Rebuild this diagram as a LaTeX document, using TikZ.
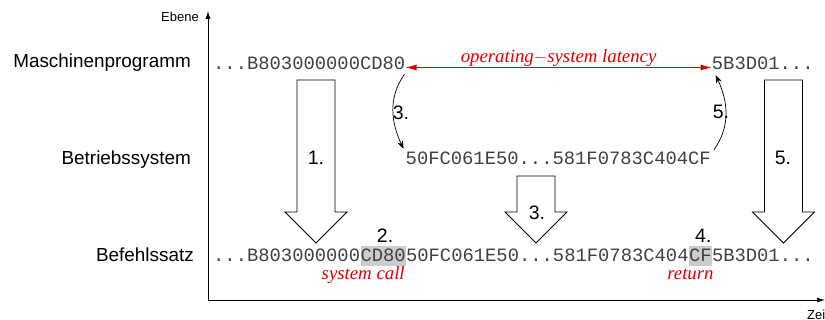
\documentclass[tikz,border=0pt]{standalone}
\usepackage{fontspec}
\setmainfont{Liberation Sans}
\setmonofont{Liberation Mono}
\newfontfamily\timesfont{Liberation Serif}
\usetikzlibrary{arrows.meta}
\definecolor{latred}{RGB}{221,0,0}
\tikzset{
  level/.style = {inner sep = 0, font = \fontsize{18.9}{22}\selectfont},
  code/.style = {inner sep = 0, text height = 13pt, text depth = 4pt, text = black!75, font = \ttfamily\fontsize{18.83}{22}\selectfont},
  hl/.style = {code, fill = black!20, text height = 16pt},
  num/.style = {inner sep = 1pt, font = \fontsize{19.5}{22}\selectfont},
  note/.style = {inner sep = 1pt, text height = 12.5pt, text = latred, font = \timesfont\itshape\fontsize{18.8}{22}\selectfont},
  small/.style = {inner sep = 0, font = \fontsize{13}{15}\selectfont},
  blockarrow/.style = {draw, line width = 0.8pt, fill = white, line join = miter}
}
\newcommand{\bigarrow}[2]{\draw [blockarrow] ({#1-19}, #2) -- ({#1+19}, #2) -- ({#1+19}, 108) -- ({#1+31}, 108) -- (#1, 77) -- ({#1-31}, 108) -- ({#1-19}, 108) -- cycle;}
\begin{document}
\begin{tikzpicture}[x = 1pt, y = 1pt]
        \useasboundingbox (0, 0) rectangle (825, 320);
        \draw [-{Latex[length=8pt, width=5pt]}, line width = 0.8pt] (208, 20) -- (208, 309);
        \draw [-{Latex[length=8pt, width=5pt]}, line width = 0.8pt] (208, 20) -- (825, 20);
        \node [small, anchor = east] (ebene) at (199, 303) {Ebene};
        \node [small, anchor = west] (zeit) at (807, 5) {Zeit};

        \node [level, anchor = base east] (lmp) at (191, 252) {Maschinenprogramm};
        \node [level, anchor = base east] (lbs) at (191, 155) {Betriebssystem};
        \node [level, anchor = base east] (lbf) at (194, 58) {Befehlssatz};

        \node [code, anchor = base west] (mp1) at (213, 250) {...B803000000CD80};
        \node [code, anchor = base west] (mp2) at (711.7, 250) {5B3D01...};
        \node [code, anchor = base west] (os) at (405.5, 155) {50FC061E50...581F0783C404CF};

        \node [code, anchor = base west] (bf1) at (213, 58) {...B803000000};
        \node [hl, anchor = base west] (call) at (bf1.base east) {CD80};
        \node [code, anchor = base west] (bf2) at (call.base east) {50FC061E50...581F0783C404};
        \node [hl, anchor = base west] (ret) at (bf2.base east) {CF};
        \node [code, anchor = base west] (bf3) at (ret.base east) {5B3D01...};

        \node [num, anchor = south] (n2) at ([xshift=2pt, yshift=2pt]call.north) {2.};
        \node [num, anchor = south] (n4) at ([xshift=3pt, yshift=2pt]ret.north) {4.};
        \node [note, anchor = north east] (sc) at (call.south east) {system call};
        \node [note, anchor = north east] (rt) at ([xshift=3pt]ret.south east) {return};

        \draw [{Latex[length=11pt, width=6pt]}-{Latex[length=11pt, width=6pt]}, latred, line width = 0.8pt] ([yshift=-2pt]mp1.east) -- ([yshift=-2pt]mp2.west) node [note, midway, above] {operating$-$system latency};

        \bigarrow{316}{240}
        \bigarrow{783.5}{240}
        \bigarrow{536}{144}
        \node [num] (n1) at (316, 162) {1.};
        \node [num] (n5) at (783, 162) {5.};
        \node [num] (n3) at (537, 107) {3.};

        \draw [-{Stealth[length=8pt, width=6pt]}, line width = 0.7pt] ([xshift=-1pt]mp1.south east) to [out = 235, in = 115] ([xshift=-2pt, yshift=3pt]os.north west);
        \draw [-{Stealth[length=8pt, width=6pt]}, line width = 0.7pt] ([xshift=3pt, yshift=2pt]os.north east) to [out = 55, in = -65] ([xshift=4pt, yshift=-1pt]mp2.south west);
        \node [num] (c3) at (401, 207) {3.};
        \node [num] (c5) at (721, 208) {5.};
\end{tikzpicture}
\end{document}
